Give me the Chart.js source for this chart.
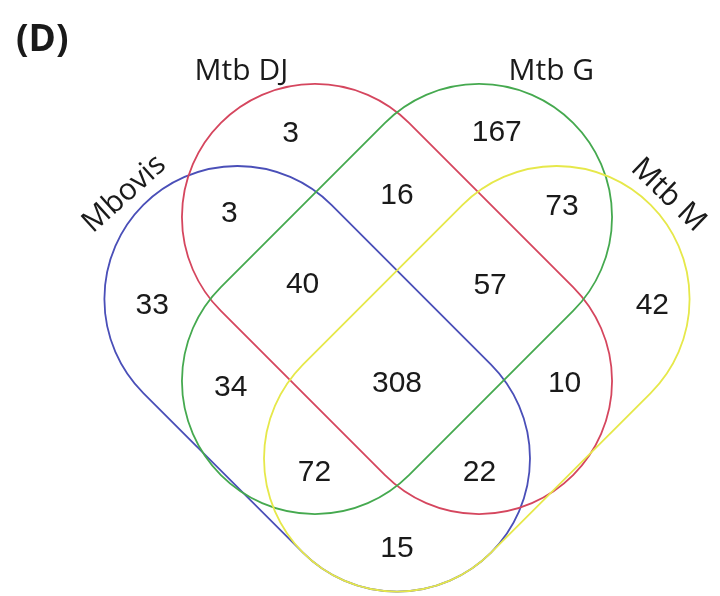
<!DOCTYPE html>
<html>
<head>
<meta charset="utf-8">
<script src="https://cdn.jsdelivr.net/npm/chart.js@4"></script>
<style>
  body { margin: 0; background: #fff; }
  #wrap { position: relative; width: 720px; height: 596px; }
</style>
</head>
<body>
<div id="wrap"><canvas id="vennChart"></canvas></div>
<script>
// sets (stadium shapes: two cap centres + radius, in diagram units)
const setNames = ['Mbovis', 'Mtb DJ', 'Mtb G', 'Mtb M'];
const setColors = ['#4a4fb8', '#d5465e', '#45a94f', '#e6e84a'];
const capStartX = [-1.2, -0.617, 0.617, 1.2];
const capStartY = [0, 0.617, 0.617, 0];
const capEndX = [0, 0.617, -0.617, 0];
const capEndY = [-1.2, -0.617, -0.617, -1.2];
const capRadius = 1;

// set name labels
const nameX = [-2.05, -1.17, 1.16, 2.04];
const nameY = [0.79, 1.71, 1.71, 0.78];
const nameAngle = [-42, 0, 0, 44];

// region counts
const counts = [3, 167, 3, 16, 73, 33, 40, 57, 42, 34, 308, 10, 72, 22, 15];
const countX = [-0.8, 0.75, -1.26, 0, 1.24, -1.84, -0.71, 0.7, 1.92, -1.25, 0, 1.26, -0.62, 0.62, 0];
const countY = [1.24, 1.25, 0.64, 0.78, 0.69, -0.05, 0.11, 0.1, -0.05, -0.67, -0.64, -0.64, -1.31, -1.31, -1.88];

const panelLabel = '(D)';

const points = counts.map((c, i) => ({ x: countX[i], y: countY[i] }));

const vennPlugin = {
    id: 'venn',
    beforeDatasetsDraw(chart) {
        const ctx = chart.ctx;
        const xs = chart.scales.x, ys = chart.scales.y;
        const unit = xs.getPixelForValue(1) - xs.getPixelForValue(0);
        ctx.save();
        ctx.lineWidth = 1.8;
        for (let i = 0; i < setNames.length; i++) {
            const x1 = xs.getPixelForValue(capStartX[i]), y1 = ys.getPixelForValue(capStartY[i]);
            const x2 = xs.getPixelForValue(capEndX[i]), y2 = ys.getPixelForValue(capEndY[i]);
            const r = capRadius * unit;
            const a = Math.atan2(y2 - y1, x2 - x1);
            ctx.beginPath();
            ctx.arc(x1, y1, r, a + Math.PI / 2, a + 3 * Math.PI / 2);
            ctx.arc(x2, y2, r, a - Math.PI / 2, a + Math.PI / 2);
            ctx.closePath();
            ctx.strokeStyle = setColors[i];
            ctx.stroke();
        }
        // set names
        ctx.fillStyle = '#1a1a1a';
        ctx.font = '30px "Open Sans"';
        ctx.textAlign = 'center';
        ctx.textBaseline = 'middle';
        for (let i = 0; i < setNames.length; i++) {
            ctx.save();
            ctx.translate(xs.getPixelForValue(nameX[i]), ys.getPixelForValue(nameY[i]));
            ctx.rotate(nameAngle[i] * Math.PI / 180);
            ctx.fillText(setNames[i], 0, 0);
            ctx.restore();
        }
        // panel label
        ctx.font = 'bold 37px "Open Sans"';
        ctx.textAlign = 'left';
        ctx.textBaseline = 'alphabetic';
        ctx.fillText(panelLabel, 16, 51);
        ctx.restore();
    },
    afterDatasetsDraw(chart) {
        const ctx = chart.ctx;
        const meta = chart.getDatasetMeta(0);
        ctx.save();
        ctx.fillStyle = '#1a1a1a';
        ctx.font = '30px "Liberation Sans"';
        ctx.textAlign = 'center';
        ctx.textBaseline = 'middle';
        meta.data.forEach((pt, i) => {
            ctx.fillText(String(counts[i]), pt.x, pt.y);
        });
        ctx.restore();
    }
};

new Chart(document.getElementById('vennChart'), {
    type: 'scatter',
    data: {
        datasets: [{
            data: points,
            pointRadius: 0,
            showLine: false
        }]
    },
    options: {
        responsive: true,
        maintainAspectRatio: false,
        animation: false,
        layout: { padding: 0 },
        plugins: { legend: { display: false }, tooltip: { enabled: false } },
        scales: {
            x: { type: 'linear', min: -2.985, max: 2.4286, display: false },
            y: { type: 'linear', min: -2.2331, max: 2.2481, display: false }
        }
    },
    plugins: [vennPlugin]
});
</script>
</body>
</html>
